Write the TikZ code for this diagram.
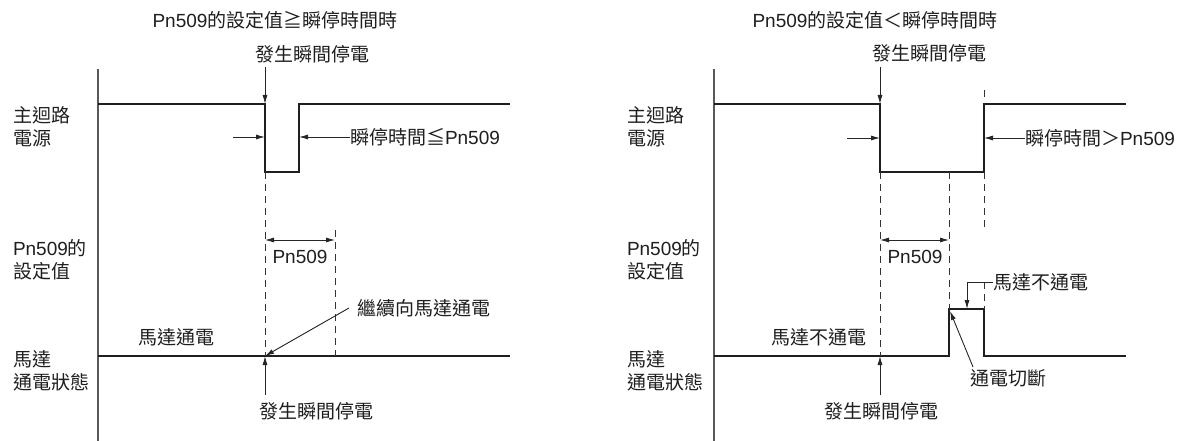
\documentclass[tikz,border=0pt]{standalone}
\usepackage{fontspec}
\setmainfont{Noto Sans CJK TC}
\newfontfamily\lat{Liberation Sans}
\usetikzlibrary{arrows.meta}
\begin{document}
\begin{tikzpicture}[x=1pt,y=-1pt,
  every node/.style={inner sep=0pt,outer sep=0pt,text=black!88,font=\fontsize{19}{23}\selectfont},
  lbl/.style={anchor=west,align=left},
  axisline/.style={draw=black!65,line width=1.1pt},
  sig/.style={draw=black!88,line width=2.6pt,line join=miter},
  dsh/.style={draw=black!80,line width=0.9pt,dash pattern=on 7pt off 5pt},
  arr/.style={draw=black!85,line width=0.9pt,-{Latex[length=9pt,width=5pt]}},
  dim/.style={draw=black!85,line width=0.9pt,{Latex[length=9pt,width=5pt]}-{Latex[length=9pt,width=5pt]}}]
\useasboundingbox[fill=white] (0,0) rectangle (1198,441);

% ================= LEFT PANEL =================
\node (Ltitle) at (275,20) {{\lat Pn509}的設定值≧瞬停時間時};
\node[lbl] (Lmain) at (13,127) {主迴路\\電源};
\node[lbl] (Lset) at (13,260) {{\lat Pn509}的\\設定值};
\node[lbl] (Lmot) at (13,371) {馬達\\通電狀態};

\coordinate (La0) at (98,69);
\coordinate (La1) at (98,441);
\draw[axisline] (La0) -- (La1);

\coordinate (Lp0) at (98,104);
\coordinate (Lp1) at (265,104);
\coordinate (Lp2) at (265,172);
\coordinate (Lp3) at (299,172);
\coordinate (Lp4) at (299,104);
\coordinate (Lp5) at (510,104);
\draw[sig] (Lp0) -- (Lp1) -- (Lp2) -- (Lp3) -- (Lp4) -- (Lp5);

\coordinate (Lm0) at (98,356);
\coordinate (Lm1) at (510,356);
\coordinate (Lm2) at (265,356);
\coordinate (Lm3) at (335,356);
\draw[sig] (Lm0) -- (Lm1);

\coordinate (Ld0) at (335,230);
\draw[dsh] (Lp2) -- (Lm2);
\draw[dsh] (Ld0) -- (Lm3);

\node (Ltop) at (312,54) {發生瞬間停電};
\coordinate (Ltopa) at (265,67);
\draw[arr] (Ltopa) -- (Lp1);

\node[anchor=west] (Lhl) at (350,137) {瞬停時間≦{\lat Pn509}};
\coordinate (Lh0) at (233,137);
\coordinate (Lh1) at (265,137);
\coordinate (Lh2) at (299,137);
\draw[arr] (Lh0) -- (Lh1);
\draw[arr] (Lhl.west) -- (Lh2);

\coordinate (Ld1) at (265,240);
\coordinate (Ld2) at (335,240);
\draw[dim] (Ld1) -- (Ld2);
\node (LPn) at (300,257) {\lat Pn509};

\node[anchor=west] (Lcont) at (357,308) {繼續向馬達通電};
\coordinate (Lca) at (349,308);
\draw[arr] (Lca) -- (Lm2);

\node (Lon) at (176,337) {馬達通電};

\node (Lbot) at (316,411) {發生瞬間停電};
\coordinate (Lba) at (265,395);
\draw[arr] (Lba) -- (Lm2);

% ================= RIGHT PANEL =================
\node (Rtitle) at (875,20) {{\lat Pn509}的設定值＜瞬停時間時};
\node[lbl] (Rmain) at (627,127) {主迴路\\電源};
\node[lbl] (Rset) at (627,260) {{\lat Pn509}的\\設定值};
\node[lbl] (Rmot) at (627,371) {馬達\\通電狀態};

\coordinate (Ra0) at (714,69);
\coordinate (Ra1) at (714,441);
\draw[axisline] (Ra0) -- (Ra1);

\coordinate (Rp0) at (714,104);
\coordinate (Rp1) at (880,104);
\coordinate (Rp2) at (880,172);
\coordinate (Rp3) at (984,172);
\coordinate (Rp4) at (984,104);
\coordinate (Rp5) at (1126,104);
\draw[sig] (Rp0) -- (Rp1) -- (Rp2) -- (Rp3) -- (Rp4) -- (Rp5);

\coordinate (Rm0) at (714,356);
\coordinate (Rm1) at (880,356);
\coordinate (Rm2) at (949,356);
\coordinate (Rm3) at (949,309);
\coordinate (Rm4) at (984,309);
\coordinate (Rm5) at (984,356);
\coordinate (Rm6) at (1126,356);
\draw[sig] (Rm0) -- (Rm2) -- (Rm3) -- (Rm4) -- (Rm5) -- (Rm6);

\coordinate (Rq0) at (984,90);
\coordinate (Rq1) at (984,100);
\coordinate (Rq2) at (949,172);
\coordinate (Rq3) at (984,228);
\coordinate (Rq4) at (984,282);
\draw[dsh] (Rq0) -- (Rq1);
\draw[dsh] (Rp2) -- (Rm1);
\draw[dsh] (Rq2) -- (Rm3);
\draw[dsh] (Rp3) -- (Rq3);
\draw[dsh] (Rq4) -- (Rm4);

\node (Rtop) at (929,53) {發生瞬間停電};
\coordinate (Rtopa) at (880,67);
\draw[arr] (Rtopa) -- (Rp1);

\node[anchor=west] (Rhl) at (1025,138) {瞬停時間＞{\lat Pn509}};
\coordinate (Rh0) at (847,138);
\coordinate (Rh1) at (880,138);
\coordinate (Rh2) at (984,138);
\draw[arr] (Rh0) -- (Rh1);
\draw[arr] (Rhl.west) -- (Rh2);

\coordinate (Rd1) at (880,240);
\coordinate (Rd2) at (949,240);
\draw[dim] (Rd1) -- (Rd2);
\node (RPn) at (915,257) {\lat Pn509};

\node[anchor=west] (Roff2) at (993,282) {馬達不通電};
\coordinate (Rk0) at (967,282);
\coordinate (Rk1) at (967,309);
\draw[arr] (Roff2.west) -- (Rk0) -- (Rk1);

\node (Roff1) at (819,337) {馬達不通電};

\node (Rcut) at (1008,378) {通電切斷};
\coordinate (Rca) at (973,367);
\coordinate (Rcb) at (950,311);
\draw[arr] (Rca) -- (Rcb);

\node (Rbot) at (881,411) {發生瞬間停電};
\coordinate (Rba) at (880,395);
\draw[arr] (Rba) -- (Rm1);
\end{tikzpicture}
\end{document}
